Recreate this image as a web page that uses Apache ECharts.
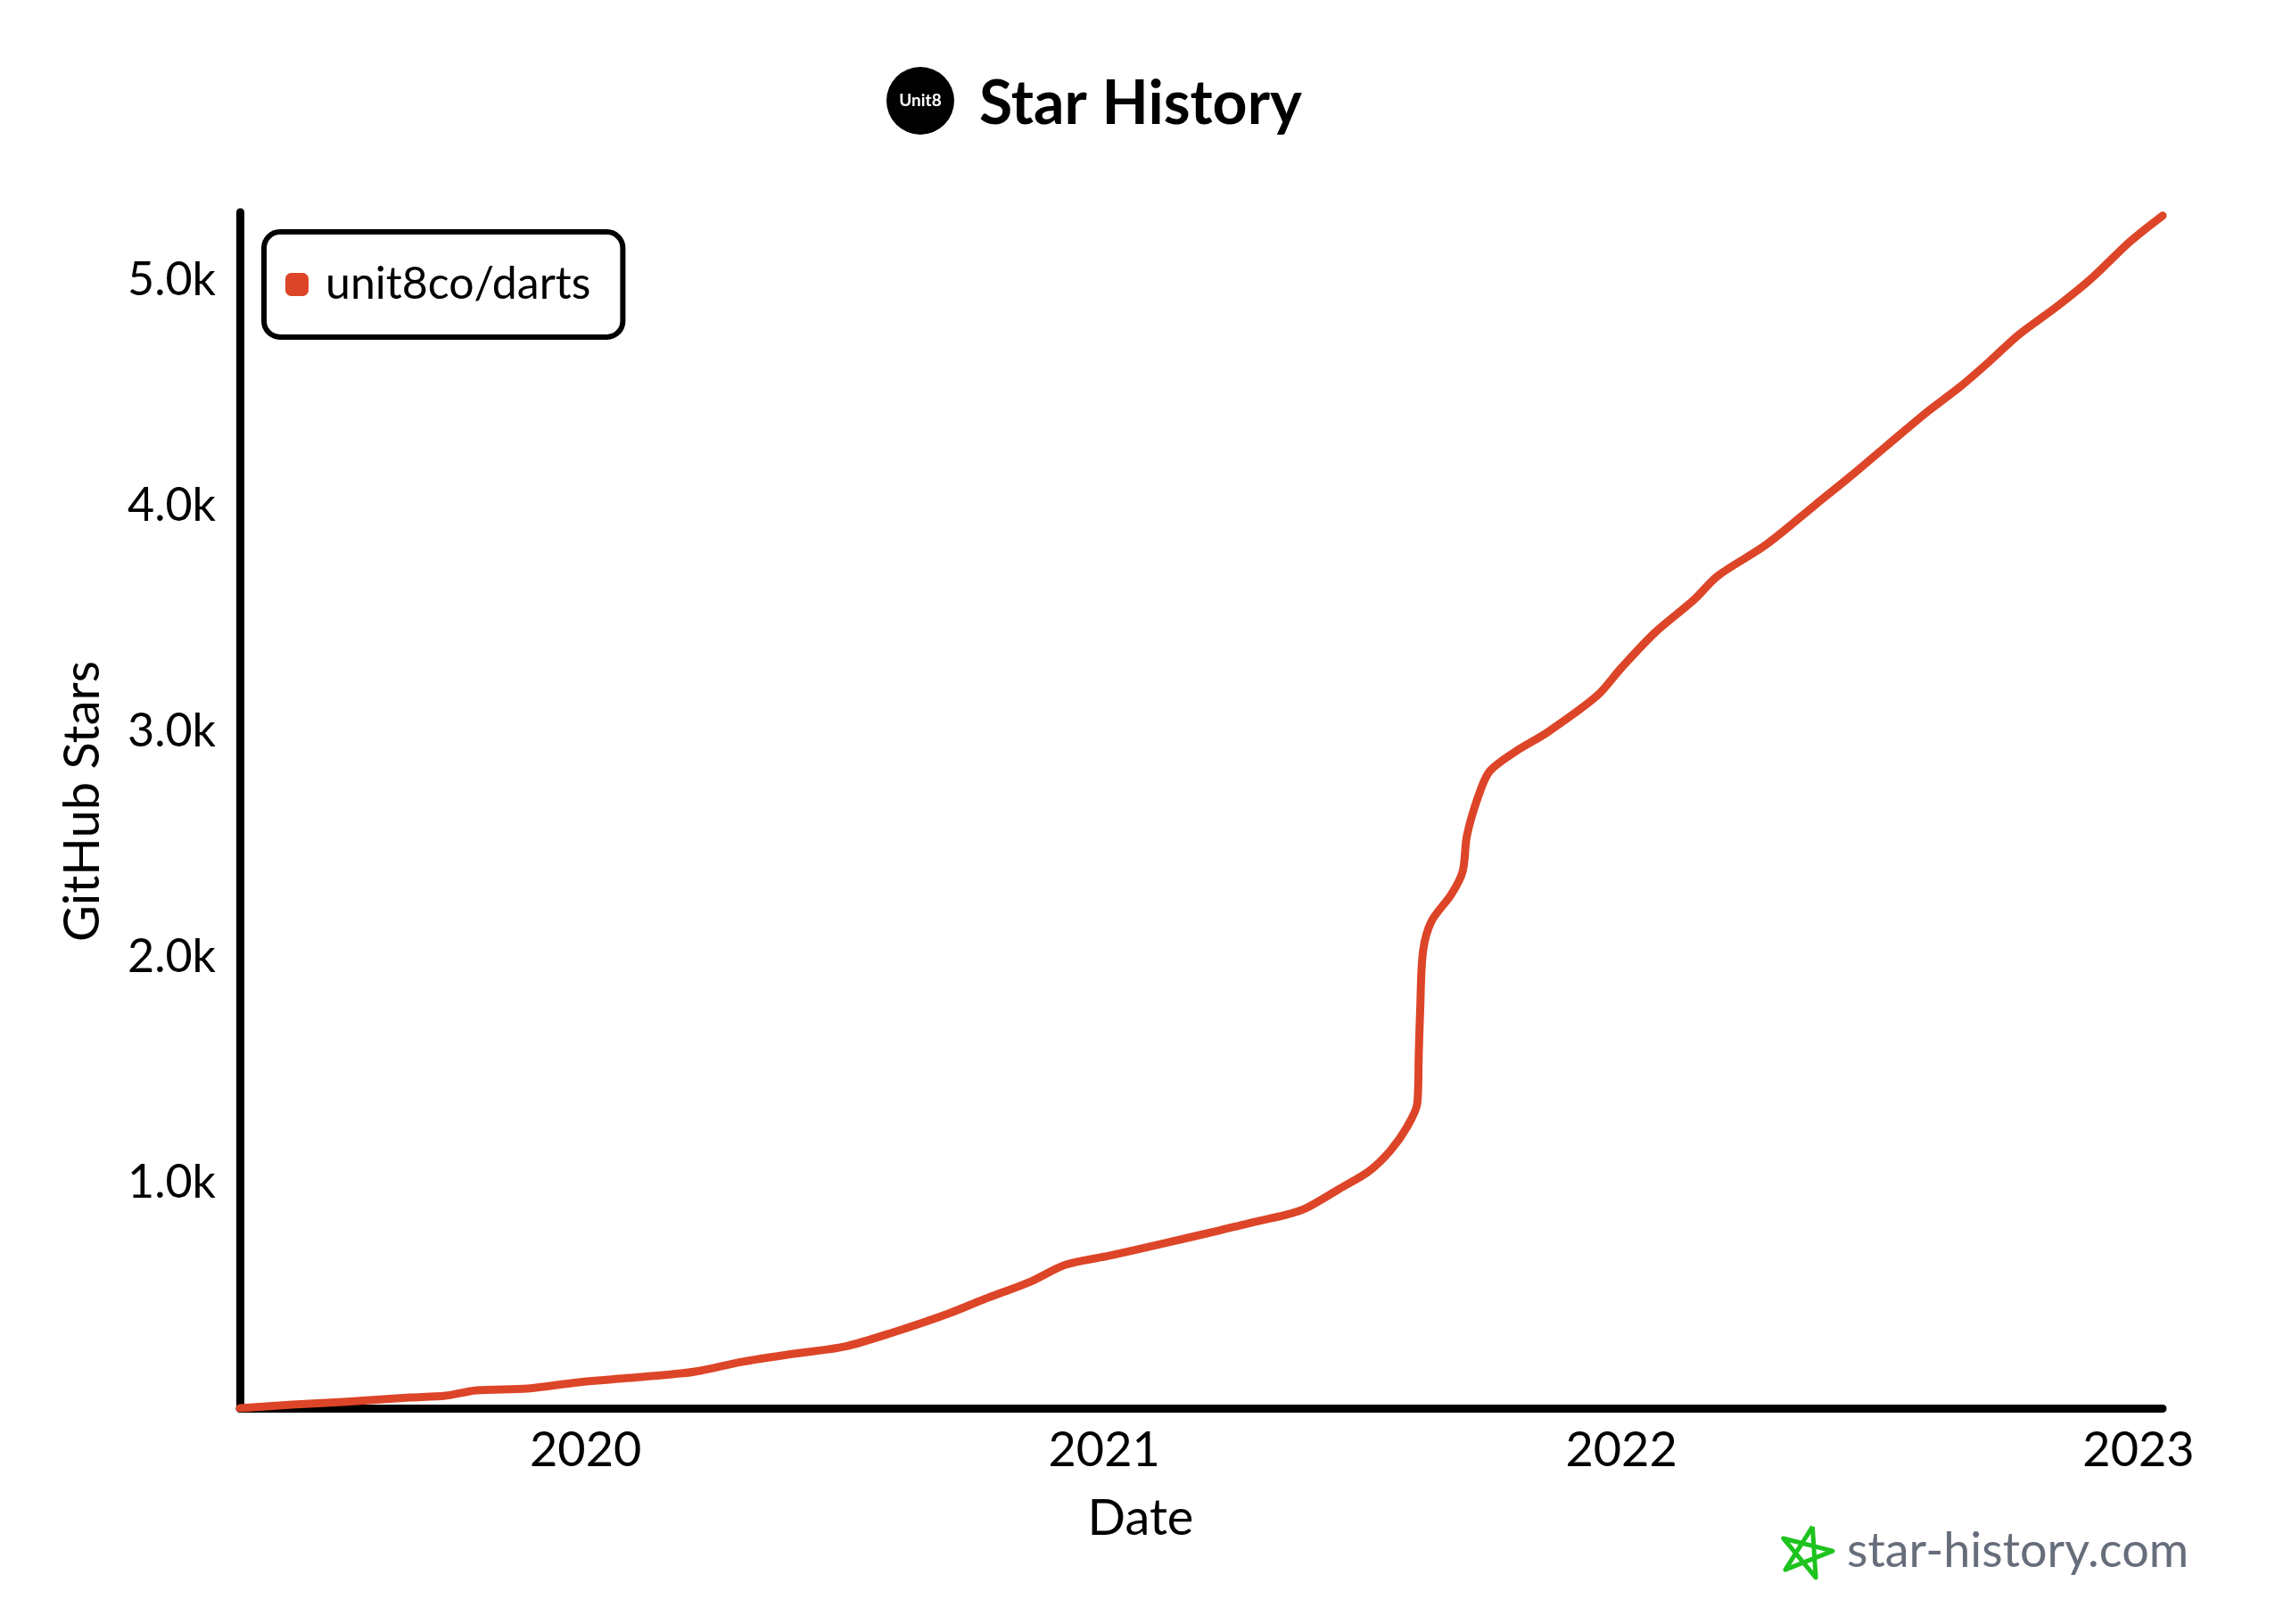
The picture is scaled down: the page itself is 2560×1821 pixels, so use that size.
<!DOCTYPE html>
<html>
<head>
<meta charset="utf-8">
<script src="https://cdn.jsdelivr.net/npm/echarts@6/dist/echarts.min.js"></script>
<style>
html,body{margin:0;padding:0;background:#fff;}
#chart{width:2560px;height:1821px;}
</style>
</head>
<body>
<div id="chart"></div>
<script>
// ---- data ----
const seriesName = 'unit8co/darts';
const dates = [
'2019-05-02','2019-06-08','2019-07-14','2019-08-30','2019-09-24','2019-10-16','2019-11-21','2019-12-27',
'2020-02-01','2020-03-08','2020-03-22','2020-04-21','2020-05-27','2020-07-02','2020-08-07','2020-09-13',
'2020-10-08','2020-11-10','2020-12-05','2021-01-05','2021-02-15','2021-03-23','2021-04-12','2021-05-10',
'2021-05-23','2021-06-16','2021-07-07','2021-07-22','2021-08-03','2021-08-10','2021-08-11','2021-08-12',
'2021-08-14','2021-08-20','2021-09-03','2021-09-11','2021-09-14','2021-09-22','2021-09-30','2021-10-18',
'2021-11-10','2021-12-15','2022-01-01','2022-01-25','2022-02-21','2022-03-10','2022-04-13','2022-05-18',
'2022-06-11','2022-07-08','2022-08-04','2022-08-28','2022-09-18','2022-10-08','2022-11-05','2022-11-29',
'2022-12-26','2023-01-18'
];
const stars = [
0,16,28,47,55,79,87,115,
134,154,166,206,241,273,340,419,
482,561,636,676,735,787,818,858,
885,972,1051,1142,1249,1352,1565,1763,
2024,2158,2277,2379,2537,2711,2822,2909,
2996,3158,3281,3439,3581,3688,3826,4004,
4126,4269,4411,4526,4640,4755,4885,5008,
5170,5285
];
const xTickYears = [2020, 2021, 2022, 2023];
const yTickValues = [1000, 2000, 3000, 4000, 5000];
const yTickLabels = ['1.0k', '2.0k', '3.0k', '4.0k', '5.0k'];
const yMax = 5300;

// ---- chart ----
const FONT = 'Lato, "Noto Sans", sans-serif';
const chart = echarts.init(document.getElementById('chart'), null, {renderer: 'canvas'});
function ts(s) { const p = s.split('-').map(Number); return new Date(p[0], p[1] - 1, p[2]).getTime(); }
const seriesData = dates.map((d, i) => [ts(d), stars[i]]);
const xTickValues = xTickYears.map(y => new Date(y, 0, 1).getTime());

function starPoints(cx, cy, r, rot) {
  const pts = [];
  const order = [0, 2, 4, 1, 3, 0];
  for (const k of order) {
    const a = rot + k * 2 * Math.PI / 5;
    pts.push([cx + r * Math.cos(a), cy + r * Math.sin(a)]);
  }
  return pts;
}

chart.setOption({
  backgroundColor: '#ffffff',
  animation: false,
  title: {
    text: 'Star History',
    left: 1093,
    top: 78,
    textStyle: {fontFamily: FONT, fontSize: 68, fontWeight: 'bold', color: '#000'}
  },
  legend: {
    left: 296,
    top: 260,
    orient: 'vertical',
    padding: [34, 36, 34, 24],
    borderColor: '#000',
    borderWidth: 6,
    borderRadius: 18,
    itemWidth: 26,
    itemHeight: 26,
    icon: 'roundRect',
    textStyle: {fontFamily: FONT, fontSize: 50, color: '#000', padding: [0, 0, 0, 14]},
    data: [seriesName]
  },
  grid: {left: 269, right: 135, top: 238, bottom: 242, containLabel: false},
  xAxis: {
    type: 'value',
    min: ts(dates[0]),
    max: ts(dates[dates.length - 1]),
    name: 'Date',
    nameLocation: 'middle',
    nameGap: 96,
    nameTextStyle: {fontFamily: FONT, fontSize: 56, color: '#000', padding: [0, 136, 0, 0]},
    axisLine: {show: true, lineStyle: {color: '#000', width: 9, cap: 'round'}},
    axisTick: {show: false},
    splitLine: {show: false},
    axisLabel: {
      customValues: xTickValues,
      margin: 21,
      fontFamily: FONT, fontSize: 54, color: '#000',
      formatter: v => String(new Date(v).getFullYear())
    }
  },
  yAxis: {
    type: 'value',
    min: 0,
    max: yMax,
    name: 'GitHub Stars',
    nameLocation: 'middle',
    nameGap: 148,
    nameTextStyle: {fontFamily: FONT, fontSize: 56, color: '#000', padding: [0, 0, 0, 20]},
    axisLine: {show: true, lineStyle: {color: '#000', width: 9, cap: 'round'}},
    axisTick: {show: false},
    splitLine: {show: false},
    axisLabel: {
      customValues: yTickValues,
      margin: 27,
      fontFamily: FONT, fontSize: 52, color: '#000',
      formatter: v => { const i = yTickValues.indexOf(v); return i >= 0 ? yTickLabels[i] : ''; }
    }
  },
  series: [{
    name: seriesName,
    type: 'line',
    data: seriesData,
    smooth: 0.3,
    showSymbol: false,
    symbol: 'none',
    color: '#dd4528',
    lineStyle: {color: '#dd4528', width: 9, cap: 'round', join: 'round'},
    z: 1
  }],
  graphic: [
    {type: 'circle', shape: {cx: 1032, cy: 113, r: 38}, style: {fill: '#000'}},
    {type: 'text', x: 1032, y: 113, style: {text: 'Unit8', fill: '#fff', font: 'bold 19px ' + FONT, align: 'center', verticalAlign: 'middle'}},
    {type: 'polyline', shape: {points: starPoints(2025, 1741, 30, -Math.PI / 2 + 0.25)}, style: {stroke: '#1ec31e', lineWidth: 5, fill: null, lineJoin: 'round'}},
    {type: 'text', x: 2071, y: 1740, style: {text: 'star-history.com', fill: '#666d7b', font: '54px ' + FONT, align: 'left', verticalAlign: 'middle'}}
  ]
});
</script>
</body>
</html>
